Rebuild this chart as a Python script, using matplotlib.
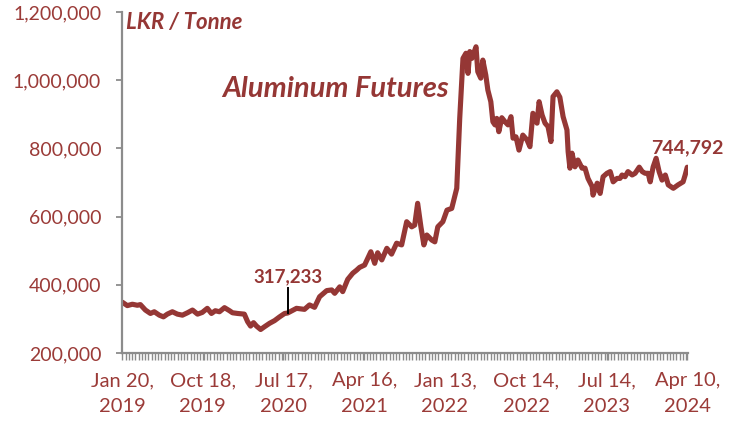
import pandas as pd
import matplotlib
matplotlib.use('Agg')
import matplotlib.pyplot as plt
from matplotlib.ticker import FuncFormatter

# Aluminum futures, LKR per tonne
dates = [
    '2019-01-20', '2019-02-06', '2019-02-23', '2019-03-12', '2019-03-22', '2019-04-08',
    '2019-04-25', '2019-05-08', '2019-05-25', '2019-06-08', '2019-06-21', '2019-07-08',
    '2019-07-25', '2019-08-11', '2019-08-28', '2019-09-14', '2019-10-01', '2019-10-17',
    '2019-11-03', '2019-11-17', '2019-11-30', '2019-12-14', '2019-12-31', '2020-01-17',
    '2020-01-27', '2020-02-13', '2020-03-07', '2020-03-18', '2020-03-28', '2020-04-07',
    '2020-04-17', '2020-05-01', '2020-05-14', '2020-05-31', '2020-06-17', '2020-07-04',
    '2020-07-21', '2020-07-31', '2020-08-30', '2020-09-26', '2020-10-13', '2020-10-30',
    '2020-11-16', '2020-12-10', '2020-12-27', '2021-01-06', '2021-01-23', '2021-02-02',
    '2021-02-19', '2021-03-08', '2021-03-21', '2021-03-31', '2021-04-17', '2021-05-08',
    '2021-05-21', '2021-05-31', '2021-06-14', '2021-07-01', '2021-07-17', '2021-08-03',
    '2021-08-20', '2021-09-06', '2021-09-23', '2021-10-03', '2021-10-13', '2021-10-24',
    '2021-11-03', '2021-11-13', '2021-11-30', '2021-12-10', '2021-12-20', '2022-01-06',
    '2022-01-20', '2022-02-05', '2022-02-22', '2022-03-04', '2022-03-15', '2022-03-25',
    '2022-04-01', '2022-04-07', '2022-04-14', '2022-04-28', '2022-05-04', '2022-05-14',
    '2022-05-21', '2022-05-31', '2022-06-07', '2022-06-17', '2022-06-24', '2022-07-01',
    '2022-07-07', '2022-07-14', '2022-07-24', '2022-08-04', '2022-08-14', '2022-08-24',
    '2022-08-31', '2022-09-10', '2022-09-20', '2022-10-03', '2022-10-17', '2022-10-27',
    '2022-11-06', '2022-11-20', '2022-11-27', '2022-12-07', '2022-12-17', '2022-12-27',
    '2023-01-06', '2023-01-13', '2023-01-26', '2023-02-05', '2023-02-16', '2023-03-01',
    '2023-03-05', '2023-03-11', '2023-03-18', '2023-03-28', '2023-04-07', '2023-04-21',
    '2023-05-01', '2023-05-11', '2023-05-25', '2023-05-28', '2023-06-11', '2023-06-21',
    '2023-07-01', '2023-07-14', '2023-07-25', '2023-08-04', '2023-08-17', '2023-08-27',
    '2023-09-03', '2023-09-13', '2023-09-23', '2023-10-07', '2023-10-17', '2023-10-31',
    '2023-11-10', '2023-11-20', '2023-11-30', '2023-12-07', '2023-12-17', '2023-12-27',
    '2024-01-06', '2024-01-16', '2024-01-27', '2024-02-06', '2024-02-23', '2024-03-10',
    '2024-03-27', '2024-04-03', '2024-04-10',
]
price_k = [
    349, 339, 343, 340, 342, 326,
    316, 321, 311, 306, 314, 321,
    314, 311, 318, 326, 314, 319,
    331, 316, 324, 321, 333, 324,
    318, 316, 314, 292, 279, 289,
    279, 269, 277, 287, 295, 306,
    316, 317.233, 331, 328, 341, 334,
    365, 383, 385, 375, 394, 380,
    416, 434, 443, 451, 458, 497,
    463, 494, 473, 507, 490, 522,
    517, 585, 570, 575, 639, 570,
    517, 546, 531, 526, 570, 585,
    619, 624, 683, 888, 1064, 1079,
    1020, 1084, 1064, 1098, 1025, 1006,
    1059, 1015, 971, 937, 878, 869,
    888, 849, 890, 878, 869, 893,
    830, 834, 795, 839, 825, 805,
    903, 874, 937, 898, 874, 864,
    820, 952, 966, 950, 893, 854,
    790, 742, 786, 746, 766, 742,
    742, 712, 688, 663, 698, 668,
    717, 727, 732, 702, 712, 712,
    722, 717, 732, 722, 727, 745,
    732, 727, 727, 702, 746, 771,
    732, 707, 722, 693, 683, 693,
    702, 722, 744.792,
]
tick_dates = ['2019-01-20', '2019-10-18', '2020-07-17', '2021-04-16',
              '2022-01-13', '2022-10-14', '2023-07-14', '2024-04-10']
y_ticks = [200000, 400000, 600000, 800000, 1000000, 1200000]
low_label = 317233
last_label = 744792

red = '#953735'
txt = '#9B3B38'
grey = '#8C8C8C'

x = pd.to_datetime(dates)
y = [v * 1000 for v in price_k]
ticks = pd.to_datetime(tick_dates)

plt.rcParams['font.family'] = ['Lato', 'DejaVu Sans']

fig = plt.figure(figsize=(7.42, 4.21), dpi=100)
ax = fig.add_axes([0.1644, 0.1615, 0.7626, 0.81])

ax.plot(x, y, color=red, lw=3.7, solid_joinstyle='round', solid_capstyle='round')

ax.set_ylim(200000, 1200000)
ax.set_xlim(x[0] - pd.Timedelta(days=1), x[-1] + pd.Timedelta(days=2))
ax.set_yticks(y_ticks)
ax.yaxis.set_major_formatter(FuncFormatter(lambda v, p: f'{int(v):,}'))

ax.set_xticks(ticks)
ax.set_xticklabels([f"{d.strftime('%b')} {d.day},\n{d.year}" for d in ticks])
ax.set_xticks(pd.date_range(x[0], x[-1], freq='11D'), minor=True)

for s in ['top', 'right']:
    ax.spines[s].set_visible(False)
for s in ['left', 'bottom']:
    ax.spines[s].set_color(grey)
    ax.spines[s].set_linewidth(1.6)

ax.tick_params(axis='y', colors=grey, labelcolor=txt, labelsize=14, length=4, width=1.3, pad=11)
ax.tick_params(axis='x', which='major', colors=grey, labelcolor=txt, labelsize=14.5,
               length=5, width=1, pad=9)
ax.tick_params(axis='x', which='minor', colors=grey, length=5, width=1)
for lab in ax.get_xticklabels():
    lab.set_linespacing(1.6)

ax.text(0.007, 0.968, 'LKR / Tonne', transform=ax.transAxes, color=red, fontsize=16,
        fontweight='bold', fontstyle='italic', va='center', ha='left')
ax.text(0.177, 0.775, 'Aluminum Futures', transform=ax.transAxes, color=red, fontsize=21,
        fontweight='bold', fontstyle='italic', va='center', ha='left')

# callouts for the highlighted values
ann = pd.Timestamp('2020-07-31')
ax.plot([ann, ann], [low_label, 391000], color='black', lw=1.4)
ax.text(ann, 423000, f'{low_label:,}', ha='center', va='center', color=red,
        fontsize=13.5, fontweight='bold')
ax.text(x[-1], 801000, f'{last_label:,}', ha='center', va='center', color=red,
        fontsize=14, fontweight='bold')

fig.savefig('out.png', dpi=100)
